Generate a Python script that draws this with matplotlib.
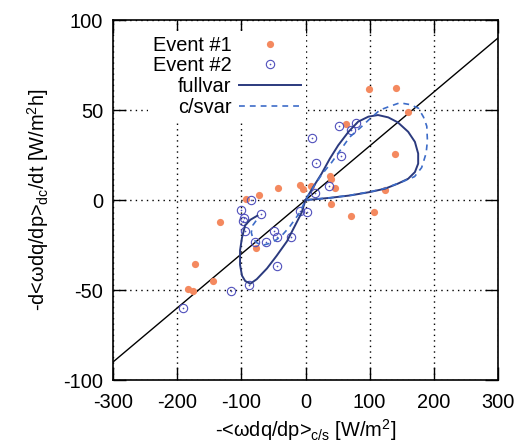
import numpy as np
import matplotlib
matplotlib.use('Agg')
import matplotlib.pyplot as plt
from matplotlib.lines import Line2D
from matplotlib.legend_handler import HandlerTuple

plt.rcParams['font.family'] = ['Liberation Sans', 'DejaVu Sans']
plt.rcParams['mathtext.fontset'] = 'custom'
plt.rcParams['mathtext.rm'] = 'Liberation Sans'
plt.rcParams['mathtext.it'] = 'Liberation Sans'
plt.rcParams['axes.unicode_minus'] = False

# Event #1 (filled orange dots)
ev1_x = [98.8, 140.7, 160.5, 62.5, 139, 37.6, 40.3, 45.9, 124.2, -8.6, -3.4, 7.8,
         40.3, 70.8, 106.6, -43.3, -71.9, -93, -133, -77, -171.5, -143.5, -182.4, -175.6]
ev1_y = [61.7, 62.3, 48.7, 42, 25.6, 13.1, 11.8, 6.8, 5.3, 8.1, 6.2, 7.5,
         -2.1, -9, -6.8, 6.8, 2.5, 0.7, -12.4, -26.9, -35.8, -45, -49.6, -50.6]

# Event #2 (open circles with dot)
ev2_x = [9.6, 52.6, 78.5, 70.3, 55.2, 16.3, 36.6, 14.8, -8.6, 2.8, -85.3, -100.4, -69.7,
         -95.7, -97.7, -94, -79, -61, -48.5, -44.8, -23, -43.9, -87.6, -116.6, -191.4]
ev2_y = [34.7, 41.2, 42.9, 38.8, 24.3, 20.4, 7.5, 4.0, -5.9, -6.6, -0.1, -5.5, -7.9,
         -10.1, -11.8, -17, -23.2, -23.2, -17.4, -20.8, -20.4, -36.8, -47.2, -50.6, -59.9]

# fullvar trajectory
full_x = [-75, -86, -94, -99, -102, -102, -99, -94, -86, -76, -60, -45, -29, -16, -6, 0,
          12, 25, 38, 51, 67, 82, 98, 113, 129, 144, 160, 170.5, 175.6, 175.6, 170.5,
          160, 144, 124, 100, 69, 38, 12, 0]
full_y = [-8.7, -11, -14, -21, -28, -36, -42, -45, -46.5, -44, -38, -31, -23, -14, -7, 0,
          7.2, 14.6, 23, 30.4, 37.9, 43.5, 46.3, 47.2, 45.9, 43.1, 37.9, 32.3, 25.8, 20.2, 15.5,
          11.8, 9.1, 6.3, 4.4, 2.5, 1.2, 0.3, 0]

# c/svar trajectory
cs_x = [-77, -82, -84.5, -82, -75, -65, -55, -45, -35, -25, -17, -9, 0,
        12, 25, 41, 59, 69, 85, 100, 116, 131, 147, 163, 176, 184, 189, 190, 188, 181,
        170, 150, 124, 100, 69, 38, 0]
cs_y = [-11.5, -14, -18, -21.5, -24, -25, -24, -22, -19, -15, -11, -7, 0,
        7, 14, 21, 30, 35, 40, 45, 50, 52, 54, 53, 51, 46, 41, 33, 26, 18,
        13, 10, 6.5, 4.5, 2.6, 1.2, 0]

diag_x = [-300, 300]
diag_slope = 0.3

orange = '#F4895F'
blue_pts = '#5050BC'
navy = '#2B3A7E'
blue_dash = '#3D6CC8'
fs = 14.4

fig = plt.figure(figsize=(5.19, 4.44), dpi=100)
ax = fig.add_axes([113/519, 1-380/444, 385/519, 360/444])

ax.plot(diag_x, [diag_slope*v for v in diag_x], color='black', lw=1.0, zorder=2)
ax.plot(full_x, full_y, color=navy, lw=1.4, zorder=4)
ax.plot(cs_x, cs_y, color=blue_dash, lw=1.2, dashes=(3.5, 3), zorder=4)
ax.plot(ev1_x, ev1_y, 'o', color=orange, ms=5.2, mec='none', zorder=3)
ax.plot(ev2_x, ev2_y, 'o', mfc='none', mec=blue_pts, mew=0.8, ms=6, zorder=3)
ax.plot(ev2_x, ev2_y, 'o', color=blue_pts, ms=1.2, mec='none', zorder=3)

ax.set_xlim(-300, 300)
ax.set_ylim(-100, 100)
ax.set_xticks([-300, -200, -100, 0, 100, 200, 300])
ax.set_yticks([-100, -50, 0, 50, 100])
ax.tick_params(direction='in', top=True, right=True, length=9.5, width=1,
               labelsize=fs, pad=7)
ax.tick_params(axis='x', pad=9)
for sp in ax.spines.values():
    sp.set_linewidth(1.2)
ax.grid(True, color='black', lw=1.0, linestyle=(0, (1, 3)))

ax.set_xlabel(r'-<$\omega$dq/dp>$_{\rm c/s}$ [W/m$^2$]', fontsize=fs, labelpad=4)
ax.set_ylabel(r'-d<$\omega$dq/dp>$_{\rm dc}$/dt [W/m$^2$h]', fontsize=fs, labelpad=9)

h1 = Line2D([], [], ls='none', marker='o', color=orange, ms=5.2, mec='none')
h2a = Line2D([], [], ls='none', marker='o', mfc='none', mec=blue_pts, mew=0.8, ms=6)
h2b = Line2D([], [], ls='none', marker='o', color=blue_pts, ms=1.2, mec='none')
h3 = Line2D([], [], color=navy, lw=1.4)
h4 = Line2D([], [], color=blue_dash, lw=1.2, dashes=(3.5, 3))
leg = ax.legend([h1, (h2a, h2b), h3, h4], ['Event #1', 'Event #2', 'fullvar', 'c/svar'],
                handler_map={tuple: HandlerTuple(ndivide=1, pad=0)},
                loc='upper right', bbox_to_anchor=(0.5, 0.97), markerfirst=False,
                fontsize=fs, handlelength=3.1, handletextpad=0.35, labelspacing=0.08,
                borderpad=0.25, borderaxespad=0, frameon=True, fancybox=False,
                facecolor='white', edgecolor='none', framealpha=1)
leg.set_zorder(5)

fig.savefig('out.png', dpi=100)
